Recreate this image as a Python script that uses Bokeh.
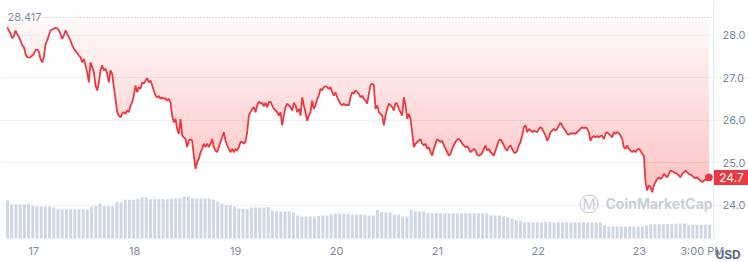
import numpy as np
import pandas as pd
from bokeh.plotting import figure
from bokeh.models import Range1d, FixedTicker, Label
from bokeh.core.properties import value
from bokeh.embed import file_html
from bokeh.resources import INLINE

# ---------------- data ----------------
price_start = "2023-03-16 17:40"
price_end = "2023-03-23 16:34"
price = [
    28.18, 28.11, 28.03, 27.93, 27.97, 28.11, 28.02, 27.96, 27.87, 27.76,
    27.72, 27.56, 27.48, 27.47, 27.48, 27.52, 27.56, 27.65, 27.66, 27.61,
    27.44, 27.36, 27.48, 27.79, 27.87, 27.99, 28.11, 28.13, 28.15, 28.17,
    28.16, 28.11, 28.03, 27.91, 27.99, 28.11, 28.03, 27.95, 27.87, 27.76,
    27.68, 27.63, 27.58, 27.52, 27.48, 27.36, 27.44, 27.29, 27.13, 26.89,
    27.36, 27.25, 27.13, 26.82, 26.70, 26.89, 27.17, 27.29, 27.17, 27.21,
    27.09, 26.89, 27.17, 27.09, 26.78, 26.50, 26.19, 26.11, 26.07,
    26.15, 26.19, 26.15, 26.23, 26.19, 26.35, 26.42, 26.58, 26.82, 26.66,
    26.78, 26.74, 26.89, 26.86, 26.93, 26.99, 26.89, 26.93, 26.82, 26.70,
    26.58, 26.54, 26.57, 26.50, 26.54, 26.50, 26.52, 26.46, 26.50, 26.42,
    26.11, 25.95, 26.03, 25.80, 25.68, 26.03, 25.64, 25.60, 25.56, 25.37,
    25.52, 25.56, 25.52, 25.17, 24.86, 25.02, 25.09, 25.25, 25.33, 25.45,
    25.37, 25.45, 25.37, 25.45, 25.56, 25.37, 25.29, 25.25, 25.37, 25.49,
    25.60, 25.72, 25.52, 25.41, 25.33, 25.25, 25.33, 25.25, 25.33, 25.29,
    25.37, 25.49,
    25.49, 25.45, 25.50, 25.72, 26.11, 26.19, 26.27, 26.31, 26.19, 26.35,
    26.44, 26.39, 26.41, 26.33, 26.41, 26.31, 26.42, 26.44, 26.35, 26.27,
    26.23, 26.19, 26.11, 26.19, 25.88, 26.11, 26.31, 26.39, 26.35, 26.31,
    26.23, 26.41, 26.35, 26.19, 26.27, 26.11, 26.54, 26.35, 26.19, 25.99,
    26.11, 26.19, 26.46, 26.27, 26.35, 26.50, 26.58, 26.74, 26.70, 26.78,
    26.80, 26.78, 26.74, 26.78, 26.66, 26.58, 26.66, 26.54, 26.46, 26.39,
    26.35, 26.39, 26.35, 26.36, 26.35, 26.54, 26.66, 26.62, 26.70, 26.66,
    26.62, 26.54,
    26.58, 26.50, 26.46, 26.39, 26.62, 26.82, 26.86, 26.82, 26.27, 26.35,
    26.19, 26.15, 26.11, 25.88, 26.11, 26.27, 26.39, 26.35, 26.31, 26.23,
    26.41, 26.39, 26.27, 26.19, 26.11, 26.54, 26.35, 26.03, 26.15, 26.03,
    25.72, 25.37, 25.45, 25.49, 25.52, 25.56, 25.45, 25.41, 25.45, 25.33,
    25.37, 25.25, 25.17, 25.33, 25.45, 25.56, 25.52, 25.49, 25.52, 25.41,
    25.33, 25.25, 25.17, 25.21, 25.33, 25.41, 25.49, 25.55, 25.56, 25.52,
    25.45, 25.41, 25.37, 25.39, 25.33, 25.25, 25.29, 25.33, 25.29, 25.19,
    25.17, 25.19,
    25.23, 25.33, 25.41, 25.29, 25.33, 25.25, 25.21, 25.17, 25.29, 25.41,
    25.52, 25.55, 25.49, 25.41, 25.33, 25.29, 25.37, 25.41, 25.33, 25.25,
    25.23, 25.29, 25.41, 25.49, 25.64, 25.84, 25.88, 25.72, 25.80, 25.76,
    25.72, 25.76, 25.74, 25.72, 25.80, 25.84, 25.80, 25.72, 25.64, 25.52,
    25.60, 25.72, 25.76, 25.80, 25.76, 25.80, 25.88, 25.94, 25.88, 25.80,
    25.76, 25.68, 25.66, 25.70, 25.68, 25.70, 25.68, 25.72, 25.76, 25.80,
    25.84, 25.81, 25.84, 25.80, 25.72, 25.52, 25.60, 25.63, 25.60, 25.63,
    25.60, 25.63,
    25.64, 25.56, 25.68, 25.72, 25.68, 25.64, 25.60, 25.72, 25.68, 25.72,
    25.70, 25.64, 25.56, 25.37, 25.33, 25.41, 25.33, 25.29, 25.25, 25.29,
    25.25, 25.31, 25.33, 25.29, 25.21, 25.17, 24.55, 24.35, 24.47, 24.43,
    24.31, 24.47, 24.55, 24.62, 24.66, 24.62, 24.66, 24.74, 24.70, 24.66,
    24.74, 24.82, 24.80, 24.78, 24.76, 24.74, 24.70, 24.66, 24.74, 24.78,
    24.82, 24.78, 24.74, 24.72, 24.70, 24.66, 24.64, 24.66, 24.62, 24.58,
    24.55, 24.58, 24.61, 24.62, 24.66,
]

vol_start = "2023-03-16 17:45"
volume = [  # hourly volume, millions
    38.0, 34.3, 34.3, 34.3, 34.3, 34.3, 33.0, 32.0, 32.0, 32.0,
    32.0, 31.0, 29.3, 29.3, 29.3, 29.3, 29.3, 29.3, 29.3, 29.3,
    32.0, 33.0, 35.0, 32.3, 32.3, 32.3, 36.3, 36.3, 38.7, 38.7,
    38.7, 40.0, 41.3, 41.3, 39.3, 39.3, 39.3, 39.3, 39.3, 39.8,
    40.3, 40.3, 41.7, 41.7, 40.5, 40.0, 40.0, 40.0, 40.0, 39.0,
    37.0, 35.0, 33.7, 33.7, 32.0, 29.7, 29.7, 29.7, 31.0, 31.0,
    31.0, 31.0, 31.5, 28.0, 27.0, 27.0, 27.0, 27.0, 26.0, 23.0,
    22.0, 22.0, 22.0, 22.0, 22.5, 23.0, 23.0, 24.0, 25.0, 25.0,
    25.0, 24.5, 23.7, 23.7, 23.7, 23.5, 23.0, 23.0, 28.7, 26.3,
    26.3, 26.3, 23.7, 23.7, 22.0, 22.0, 28.7, 27.0, 27.0, 27.0,
    25.3, 25.3, 25.3, 25.3, 25.3, 25.3, 25.3, 25.3, 25.3, 25.3,
    25.3, 25.3, 25.3, 25.3, 25.3, 23.0, 23.0, 23.0, 22.0, 21.0,
    19.7, 18.5, 17.7, 16.3, 16.3, 16.3, 16.3, 16.3, 16.3, 16.3,
    16.3, 16.3, 16.3, 16.3, 16.3, 16.3, 16.3, 16.3, 16.3, 16.3,
    16.3, 16.3, 13.0, 12.0, 12.0, 12.0, 12.0, 12.0, 12.0, 12.0,
    12.0, 12.0, 13.0, 14.3, 14.3, 14.3, 14.3, 14.3, 14.3, 15.0,
    15.0, 15.0, 13.7, 13.7, 13.7, 13.7, 13.7, 13.7,
]

ref_price = 28.417
tick_days = [17, 18, 19, 20, 21, 22, 23, 23.625]
tick_labels = ["17", "18", "19", "20", "21", "22", "23", "3:00 PM"]
price_ticks = [24.0, 25.0, 26.0, 27.0, 28.0]
currency = "USD"
watermark = "CoinMarketCap"

# ---------------- helpers ----------------
month_start = pd.Timestamp("2023-03-01")


def to_day(idx):
    return ((idx - month_start) / pd.Timedelta(days=1)).to_numpy() + 1.0


price = np.array(price)
x_price = to_day(pd.date_range(price_start, price_end, periods=len(price)))
x_vol = to_day(pd.date_range(vol_start, periods=len(volume), freq="h"))

RED = "#ea3943"
GREY = "#808a9d"
FONT = "Inter"

W, H = 748, 262
DAY_PX = 100.9          # pixels per day
PRICE_PX = 42.6         # pixels per 1 USD
CHART_LEFT = 5          # chart area left edge (px)
CHART_BOTTOM = 238      # chart area bottom edge (px from top)
dpp = 1.0 / DAY_PX

x_chart0 = x_price[0] - 0.0166        # left edge of the price chart
x_sep = x_price[-1] + 0.0457          # right edge of the price chart
x_range = Range1d(x_chart0 - CHART_LEFT * dpp, x_chart0 + (W - CHART_LEFT) * dpp)
y_top = 28.812
y_range = Range1d(y_top - H / PRICE_PX, y_top)

p = figure(width=W, height=H, x_range=x_range, y_range=y_range,
           output_backend="svg", toolbar_location=None,
           min_border_left=0, min_border_right=0,
           min_border_top=0, min_border_bottom=0)
p.outline_line_color = None
p.background_fill_color = "white"
p.border_fill_color = "white"
# volume scale: 1 unit per pixel, zero at the chart bottom
p.extra_y_ranges = {"vol": Range1d(-(H - CHART_BOTTOM), CHART_BOTTOM)}
p.xaxis.visible = False
p.yaxis.visible = False

# grid
p.xgrid.visible = False
p.ygrid.ticker = FixedTicker(ticks=price_ticks)
p.ygrid.grid_line_color = "#eff2f5"
p.ygrid.bounds = (x_chart0, x_sep)

# separator between chart and price column
p.segment(x0=[x_sep], y0=[0], x1=[x_sep], y1=[CHART_BOTTOM], y_range_name="vol",
          line_color="#e6e9ee", line_width=1)

# price labels (right column)
p.text(x=[x_sep] * len(price_ticks), y=price_ticks,
       text=[f"{t:.1f}" for t in price_ticks], x_offset=9,
       text_baseline="middle", text_align="left",
       text_font=value(FONT), text_font_size="11px", text_color=GREY)

# time labels
p.text(x=tick_days, y=[y_range.start] * len(tick_days), text=tick_labels,
       y_offset=-12, text_baseline="middle", text_align="center",
       text_font=value(FONT), text_font_size="11px", text_color=GREY)

# currency unit
p.text(x=[x_sep + 2 * dpp], y=[y_range.start], text=[currency],
       y_offset=-8, text_baseline="middle", text_align="left",
       text_font=value(FONT), text_font_size="12px", text_color="#58667e",
       text_font_style="bold")

# volume bars
p.vbar(x=x_vol, top=volume, bottom=0, width=0.7 / 24, y_range_name="vol",
       fill_color="#cfd6e4", line_color=None)

# gradient fill between price line and reference price (stacked layers)
pmin = price.min()
levels = np.linspace(ref_price, pmin, 28, endpoint=False)
for k, lev in enumerate(levels):
    a = 0.03 if k == 0 else 0.0125
    p.varea(x=x_price, y1=np.minimum(price, lev), y2=np.full_like(price, lev),
            fill_color=RED, fill_alpha=a)

# reference price dotted line + label
p.segment(x0=[x_chart0], y0=[ref_price], x1=[x_sep], y1=[ref_price],
          line_color="#b8bfcc", line_dash="1 2", line_width=1)
p.add_layout(Label(x=x_chart0, y=ref_price, x_offset=2, text=f"{ref_price:.3f}",
                   text_baseline="middle", text_align="left",
                   text_font=FONT, text_font_size="11px", text_color=GREY,
                   background_fill_color="white"))

# price line and last point
p.line(x_price, price, line_color=RED, line_width=1.8)
p.scatter(x_price[-1:], price[-1:], size=7, fill_color=RED, line_color=RED)

# current price tag
x_tag = x_sep + 18 * dpp
p.rect(x=[x_tag], y=price[-1:], width=35, height=15,
       width_units="screen", height_units="screen",
       fill_color=RED, line_color=None)
p.text(x=[x_tag], y=price[-1:], text=[f"{price[-1]:.1f}"],
       text_baseline="middle", text_align="center",
       text_font=value(FONT), text_font_size="12px", text_color="white")

# watermark
p.add_layout(Label(x=x_sep, y=0, y_range_name="vol", x_offset=-108, y_offset=35,
                   text=watermark, text_baseline="middle", text_align="left",
                   text_font=FONT, text_font_size="14px", text_color="#c9ced8",
                   text_font_style="bold"))
p.add_layout(Label(x=x_sep, y=0, y_range_name="vol", x_offset=-124, y_offset=35,
                   text="\u24c2", text_baseline="middle", text_align="center",
                   text_font="DejaVu Sans", text_font_size="20px", text_color="#c9ced8"))

open("out.html", "w").write(file_html(p, INLINE))
